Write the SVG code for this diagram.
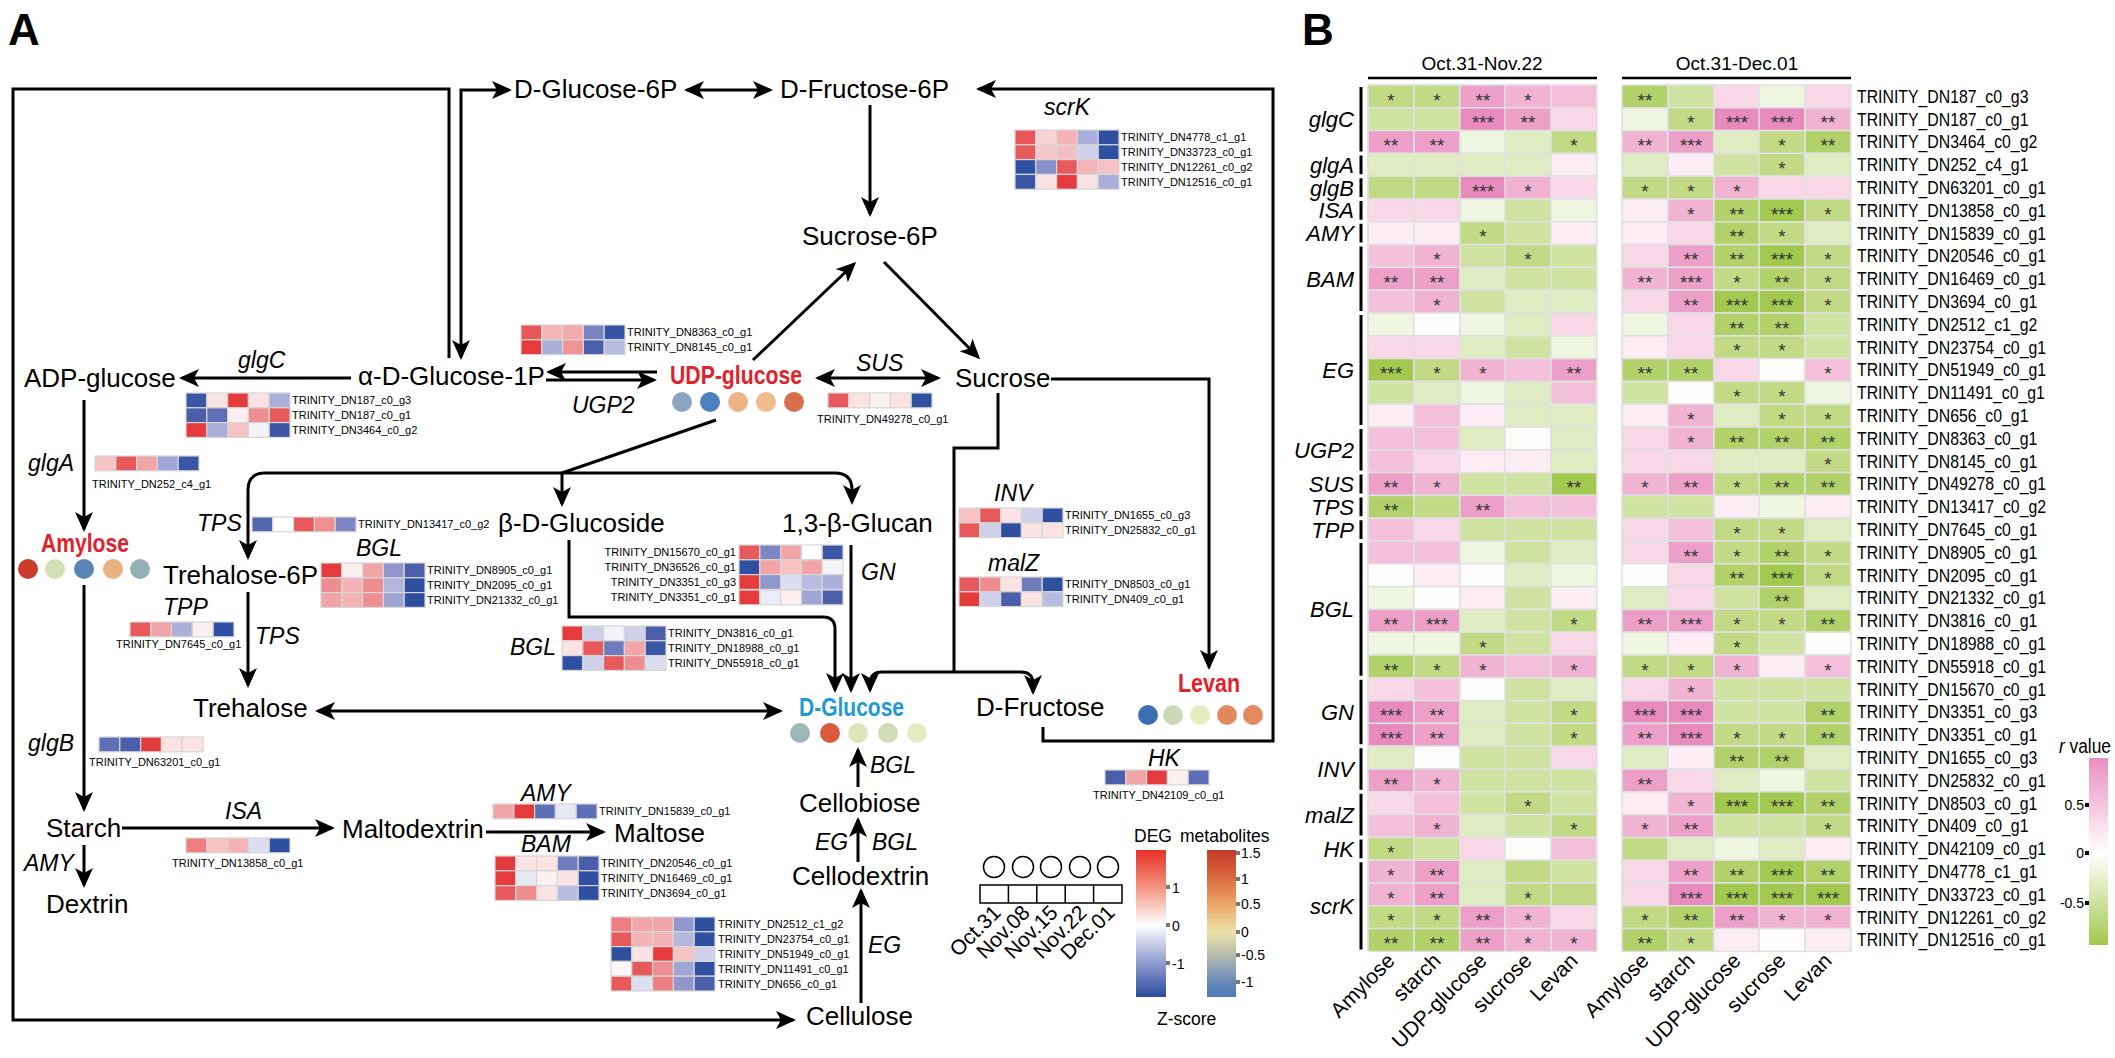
<svg xmlns="http://www.w3.org/2000/svg" width="2115" height="1058" viewBox="0 0 2115 1058">
<defs>
<marker id="ah" markerUnits="userSpaceOnUse" markerWidth="24" markerHeight="20" viewBox="0 0 24 20" refX="17" refY="9" orient="auto-start-reverse"><path d="M0,0 L20,9 L0,18 L5,9 Z" fill="#000"/></marker>
<linearGradient id="gDEG" x1="0" y1="0" x2="0" y2="1"><stop offset="0" stop-color="#e62f26"/><stop offset="0.25" stop-color="#f3927e"/><stop offset="0.51" stop-color="#ffffff"/><stop offset="0.75" stop-color="#97a2d2"/><stop offset="1" stop-color="#2a4b9e"/></linearGradient>
<linearGradient id="gMET" x1="0" y1="0" x2="0" y2="1"><stop offset="0" stop-color="#c23a28"/><stop offset="0.2" stop-color="#dc6d3f"/><stop offset="0.37" stop-color="#eba868"/><stop offset="0.56" stop-color="#ebe2a8"/><stop offset="0.71" stop-color="#b9bcad"/><stop offset="0.9" stop-color="#6689bb"/><stop offset="1" stop-color="#4d7bb9"/></linearGradient>
<linearGradient id="gR" x1="0" y1="0" x2="0" y2="1"><stop offset="0" stop-color="#e98fc0"/><stop offset="0.51" stop-color="#ffffff"/><stop offset="1" stop-color="#a3c84c"/></linearGradient>
</defs>
<style>
text{font-family:'Liberation Sans',Arial,sans-serif;fill:#000}
.m{font-size:26px}
.e{font-size:23px;font-style:italic}
.gl{font-size:11px}
.bl{font-weight:bold;font-size:26px}
.red{fill:#e2212b}
.blu{fill:#1f9ad3}
.ln{fill:none;stroke:#000;stroke-width:3}
.a2{marker-end:url(#ah)}
.a3{marker-start:url(#ah);marker-end:url(#ah)}
.ha rect{width:20.8px;height:14.8px;stroke:#d6d6d6;stroke-width:1.2}
.hb rect{width:45.8px;height:22.8px;stroke:#e0e0e0;stroke-width:1.5}
.s{font-size:19px;text-anchor:middle;fill:#333}
.gn{font-size:17.5px}
.gi{font-size:22px;font-style:italic;text-anchor:end}
.xl{font-size:21px;text-anchor:end}
.tk{font-size:14px}
.lg{font-size:17.5px}
.p1{fill:#fcedf4}.p2{fill:#f8d8e7}.p3{fill:#f3c2da}.p4{fill:#f0b3d1}.p5{fill:#eca0c7}.p6{fill:#e68bbb}
.w{fill:#fdfdfb}
.g1{fill:#eef5e0}.g2{fill:#dfecc2}.g3{fill:#d0e3a3}.g4{fill:#c2da86}.g5{fill:#b2d16a}.g6{fill:#a2c84f}
</style>
<rect width="2115" height="1058" fill="#fff"/>

<text x="8" y="45" style="font-size:44px;font-weight:bold">A</text>
<text x="1302" y="45" style="font-size:44px;font-weight:bold">B</text>

<!-- connectors -->
<g id="connectors">
<path class="ln a2" d="M449,358 V89 H13 V1020 H793"/>
<path class="ln a3" d="M461,357 V90 H509"/>
<path class="ln a3" d="M687,90 H770"/>
<path class="ln a2" d="M1043,727 V741 H1273 V89 H979"/>
<path class="ln a2" d="M870,105 V214"/>
<path class="ln a2" d="M753,360 L854,264"/>
<path class="ln a2" d="M884,262 L978,357"/>
<path class="ln a3" d="M818,378 H938"/>
<path class="ln a2" d="M351,378 H182"/>
<path class="ln a2" d="M657,372 H549"/>
<path class="ln a2" d="M546,380 H654"/>
<path class="ln a2" d="M84,400 V529"/>
<path class="ln a2" d="M84,585 V809"/>
<path class="ln a2" d="M84,845 V885"/>
<path class="ln a2" d="M122,828 H332"/>
<path class="ln a2" d="M486,832 H603"/>
<path class="ln a2" d="M248,592 V685"/>
<path class="ln a3" d="M318,711 H780"/>
<path class="ln a3" d="M248,557 V490 Q248,473 265,473 H835 Q852,473 852,490 V502"/>
<path class="ln" d="M716,420 L562,473"/>
<path class="ln a2" d="M562,473 V504"/>
<path class="ln a2" d="M569,540 V617 H823 Q835,617 835,629 V690"/>
<path class="ln a2" d="M851,545 V690"/>
<path class="ln" d="M998,393 V448 H954 V672"/>
<path class="ln a3" d="M870,690 V684 Q870,672 882,672 H1021 Q1033,672 1033,684 V692"/>
<path class="ln a2" d="M1051,379 H1209 V667"/>
<path class="ln a2" d="M861,1003 V891"/>
<path class="ln a2" d="M858,862 V820"/>
<path class="ln a2" d="M858,787 V750"/>
</g>

<!-- nodes -->
<g id="n-glucose6p"><text class="m" x="514" y="98">D-Glucose-6P</text></g>
<g id="n-fructose6p"><text class="m" x="780" y="98">D-Fructose-6P</text></g>
<g id="n-sucrose6p"><text class="m" x="802" y="245">Sucrose-6P</text></g>
<g id="n-glucose1p"><text class="m" x="358" y="385">α-D-Glucose-1P</text></g>
<g id="n-adpglucose"><text class="m" x="24" y="387">ADP-glucose</text></g>
<g id="n-udpglucose"><text class="bl red" x="670" y="384" textLength="132" lengthAdjust="spacingAndGlyphs">UDP-glucose</text>
<circle cx="682" cy="402" r="10" fill="#8aa6bf"/><circle cx="710" cy="402" r="10" fill="#4e80bd"/><circle cx="738" cy="402" r="10" fill="#ebb383"/><circle cx="766" cy="402" r="10" fill="#efbd8c"/><circle cx="794" cy="402" r="10" fill="#da6e4c"/></g>
<g id="n-sucrose"><text class="m" x="955" y="387">Sucrose</text></g>
<g id="n-amylose"><text class="bl red" x="41" y="552" textLength="88" lengthAdjust="spacingAndGlyphs">Amylose</text>
<circle cx="28" cy="569" r="10" fill="#cd3b2b"/><circle cx="55" cy="569" r="10" fill="#d3e0b3"/><circle cx="84" cy="569" r="10" fill="#5a86b7"/><circle cx="113" cy="569" r="10" fill="#e9b281"/><circle cx="140" cy="569" r="10" fill="#93b1b6"/></g>
<g id="n-glucoside"><text class="m" x="498" y="532">β-D-Glucoside</text></g>
<g id="n-glucan"><text class="m" x="782" y="532">1,3-β-Glucan</text></g>
<g id="n-trehalose6p"><text class="m" x="163" y="584">Trehalose-6P</text></g>
<g id="n-trehalose"><text class="m" x="193" y="717">Trehalose</text></g>
<g id="n-dglucose"><text class="bl blu" x="799" y="716" textLength="105" lengthAdjust="spacingAndGlyphs">D-Glucose</text>
<circle cx="800" cy="733" r="10" fill="#9cb7b5"/><circle cx="830" cy="733" r="10" fill="#d95a3c"/><circle cx="858" cy="733" r="10" fill="#dde6bb"/><circle cx="888" cy="733" r="10" fill="#cfdcb7"/><circle cx="917" cy="733" r="10" fill="#e4ecbf"/></g>
<g id="n-dfructose"><text class="m" x="976" y="716">D-Fructose</text></g>
<g id="n-levan"><text class="bl red" x="1178" y="692" textLength="62" lengthAdjust="spacingAndGlyphs">Levan</text>
<circle cx="1148" cy="715" r="10" fill="#3c6fb5"/><circle cx="1173" cy="715" r="10" fill="#ccd9b6"/><circle cx="1200" cy="715" r="10" fill="#e6edbc"/><circle cx="1227" cy="715" r="10" fill="#e28a5d"/><circle cx="1253" cy="715" r="10" fill="#e38b5f"/></g>
<g id="n-starch"><text class="m" x="46" y="837">Starch</text></g>
<g id="n-maltodextrin"><text class="m" x="342" y="838">Maltodextrin</text></g>
<g id="n-maltose"><text class="m" x="614" y="842">Maltose</text></g>
<g id="n-dextrin"><text class="m" x="46" y="913">Dextrin</text></g>
<g id="n-cellobiose"><text class="m" x="799" y="812">Cellobiose</text></g>
<g id="n-cellodextrin"><text class="m" x="792" y="885">Cellodextrin</text></g>
<g id="n-cellulose"><text class="m" x="806" y="1025">Cellulose</text></g>

<!-- enzyme labels -->
<g id="enzymes">
<text class="e" x="238" y="368">glgC</text>
<text class="e" x="572" y="413">UGP2</text>
<text class="e" x="856" y="371">SUS</text>
<text class="e" x="1044" y="115">scrK</text>
<text class="e" x="28" y="471">glgA</text>
<text class="e" x="197" y="531">TPS</text>
<text class="e" x="356" y="556">BGL</text>
<text class="e" x="163" y="615">TPP</text>
<text class="e" x="255" y="644">TPS</text>
<text class="e" x="510" y="655">BGL</text>
<text class="e" x="861" y="580">GN</text>
<text class="e" x="994" y="501">INV</text>
<text class="e" x="988" y="571">malZ</text>
<text class="e" x="1148" y="766">HK</text>
<text class="e" x="28" y="751">glgB</text>
<text class="e" x="225" y="819">ISA</text>
<text class="e" x="521" y="801">AMY</text>
<text class="e" x="521" y="852">BAM</text>
<text class="e" x="24" y="871">AMY</text>
<text class="e" x="870" y="773">BGL</text>
<text class="e" x="815" y="850">EG</text>
<text class="e" x="872" y="850">BGL</text>
<text class="e" x="868" y="953">EG</text>
</g>

<!-- panel A heatmaps -->
<g class="ha">
<g id="hm-ugp2" transform="translate(521,325)">
<rect x="0" y="0" fill="#e8565a"/><rect x="20.8" y="0" fill="#f3b7b9"/><rect x="41.6" y="0" fill="#f2aaac"/><rect x="62.4" y="0" fill="#7a82c0"/><rect x="83.2" y="0" fill="#3653a5"/>
<rect x="0" y="14.8" fill="#e53b3d"/><rect x="20.8" y="14.8" fill="#aab0da"/><rect x="41.6" y="14.8" fill="#ee9496"/><rect x="62.4" y="14.8" fill="#4b5eaa"/><rect x="83.2" y="14.8" fill="#b8bce0"/>
<text class="gl" x="106" y="11.4">TRINITY_DN8363_c0_g1</text><text class="gl" x="106" y="26.2">TRINITY_DN8145_c0_g1</text>
</g>
<g id="hm-scrk" transform="translate(1015,130)">
<rect x="0" y="0" fill="#e8565a"/><rect x="20.8" y="0" fill="#f7d3d5"/><rect x="41.6" y="0" fill="#f4b3b6"/><rect x="62.4" y="0" fill="#aaaedb"/><rect x="83.2" y="0" fill="#2f4fa0"/>
<rect x="0" y="14.8" fill="#e8595c"/><rect x="20.8" y="14.8" fill="#f6c8ca"/><rect x="41.6" y="14.8" fill="#f4bfc1"/><rect x="62.4" y="14.8" fill="#cfd1ea"/><rect x="83.2" y="14.8" fill="#2f4fa0"/>
<rect x="0" y="29.6" fill="#2f4fa0"/><rect x="20.8" y="29.6" fill="#8790c8"/><rect x="41.6" y="29.6" fill="#e8595c"/><rect x="62.4" y="29.6" fill="#f4b3b6"/><rect x="83.2" y="29.6" fill="#f6c2c4"/>
<rect x="0" y="44.4" fill="#3a56a5"/><rect x="20.8" y="44.4" fill="#fbe3e4"/><rect x="41.6" y="44.4" fill="#e53b3d"/><rect x="62.4" y="44.4" fill="#fbe3e4"/><rect x="83.2" y="44.4" fill="#aaaedb"/>
<text class="gl" x="106" y="11.4">TRINITY_DN4778_c1_g1</text><text class="gl" x="106" y="26.2">TRINITY_DN33723_c0_g1</text><text class="gl" x="106" y="41">TRINITY_DN12261_c0_g2</text><text class="gl" x="106" y="55.8">TRINITY_DN12516_c0_g1</text>
</g>
<g id="hm-glgc" transform="translate(186,393)">
<rect x="0" y="0" fill="#3a56a5"/><rect x="20.8" y="0" fill="#fbe3e4"/><rect x="41.6" y="0" fill="#e53b3d"/><rect x="62.4" y="0" fill="#fbe3e4"/><rect x="83.2" y="0" fill="#aaaedb"/>
<rect x="0" y="14.8" fill="#4b5eaa"/><rect x="20.8" y="14.8" fill="#5f6fb5"/><rect x="41.6" y="14.8" fill="#fbeff0"/><rect x="62.4" y="14.8" fill="#ee8e90"/><rect x="83.2" y="14.8" fill="#e8595c"/>
<rect x="0" y="29.6" fill="#e53b3d"/><rect x="20.8" y="29.6" fill="#aaaedb"/><rect x="41.6" y="29.6" fill="#f6c2c4"/><rect x="62.4" y="29.6" fill="#f3f3f8"/><rect x="83.2" y="29.6" fill="#3a56a5"/>
<text class="gl" x="106" y="11.4">TRINITY_DN187_c0_g3</text><text class="gl" x="106" y="26.2">TRINITY_DN187_c0_g1</text><text class="gl" x="106" y="41">TRINITY_DN3464_c0_g2</text>
</g>
<g id="hm-sus" transform="translate(828,393)">
<rect x="0" y="0" fill="#e8595c"/><rect x="20.8" y="0" fill="#fbe3e4"/><rect x="41.6" y="0" fill="#fdf0f0"/><rect x="62.4" y="0" fill="#fbe3e4"/><rect x="83.2" y="0" fill="#2f4fa0"/>
<text class="gl" x="-11" y="30">TRINITY_DN49278_c0_g1</text>
</g>
<g id="hm-glga" transform="translate(95,456)">
<rect x="0" y="0" fill="#f6c2c4"/><rect x="20.8" y="0" fill="#e8595c"/><rect x="41.6" y="0" fill="#f2a5a8"/><rect x="62.4" y="0" fill="#9fa6d6"/><rect x="83.2" y="0" fill="#3a56a5"/>
<text class="gl" x="-3" y="32">TRINITY_DN252_c4_g1</text>
</g>
<g id="hm-tps" transform="translate(252,517)">
<rect x="0" y="0" fill="#5566b0"/><rect x="20.8" y="0" fill="#ffffff"/><rect x="41.6" y="0" fill="#e8595c"/><rect x="62.4" y="0" fill="#ef8f92"/><rect x="83.2" y="0" fill="#7e87c4"/>
<text class="gl" x="106" y="11.4">TRINITY_DN13417_c0_g2</text>
</g>
<g id="hm-bgl1" transform="translate(321,563)">
<rect x="0" y="0" fill="#e53b3d"/><rect x="20.8" y="0" fill="#fbeff0"/><rect x="41.6" y="0" fill="#f2a5a8"/><rect x="62.4" y="0" fill="#8f97cc"/><rect x="83.2" y="0" fill="#4b5eaa"/>
<rect x="0" y="14.8" fill="#ee8e90"/><rect x="20.8" y="14.8" fill="#f4b3b6"/><rect x="41.6" y="14.8" fill="#ee8e90"/><rect x="62.4" y="14.8" fill="#b3b7de"/><rect x="83.2" y="14.8" fill="#2f4fa0"/>
<rect x="0" y="29.6" fill="#f2a5a8"/><rect x="20.8" y="29.6" fill="#f4b3b6"/><rect x="41.6" y="29.6" fill="#ee8e90"/><rect x="62.4" y="29.6" fill="#9fa6d6"/><rect x="83.2" y="29.6" fill="#2f4fa0"/>
<text class="gl" x="106" y="11.4">TRINITY_DN8905_c0_g1</text><text class="gl" x="106" y="26.2">TRINITY_DN2095_c0_g1</text><text class="gl" x="106" y="41">TRINITY_DN21332_c0_g1</text>
</g>
<g id="hm-tpp" transform="translate(130,622)">
<rect x="0" y="0" fill="#e8595c"/><rect x="20.8" y="0" fill="#f2a5a8"/><rect x="41.6" y="0" fill="#aab0da"/><rect x="62.4" y="0" fill="#fbeff0"/><rect x="83.2" y="0" fill="#2f4fa0"/>
<text class="gl" x="-14" y="26">TRINITY_DN7645_c0_g1</text>
</g>
<g id="hm-gn" transform="translate(739,545)">
<rect x="0" y="0" fill="#e8595c"/><rect x="20.8" y="0" fill="#7e87c4"/><rect x="41.6" y="0" fill="#f2a5a8"/><rect x="62.4" y="0" fill="#ffffff"/><rect x="83.2" y="0" fill="#3a56a5"/>
<rect x="0" y="14.8" fill="#2f4fa0"/><rect x="20.8" y="14.8" fill="#f2a5a8"/><rect x="41.6" y="14.8" fill="#f6c2c4"/><rect x="62.4" y="14.8" fill="#f2a5a8"/><rect x="83.2" y="14.8" fill="#f3f3f8"/>
<rect x="0" y="29.6" fill="#e53b3d"/><rect x="20.8" y="29.6" fill="#8f97cc"/><rect x="41.6" y="29.6" fill="#dcdff0"/><rect x="62.4" y="29.6" fill="#b8bce0"/><rect x="83.2" y="29.6" fill="#aab0da"/>
<rect x="0" y="45" fill="#e53b3d"/><rect x="20.8" y="45" fill="#eaecf6"/><rect x="41.6" y="45" fill="#fdf0f0"/><rect x="62.4" y="45" fill="#9fa6d6"/><rect x="83.2" y="45" fill="#4b5eaa"/>
<g style="text-anchor:end"><text class="gl" x="-3" y="11.4">TRINITY_DN15670_c0_g1</text><text class="gl" x="-3" y="26.2">TRINITY_DN36526_c0_g1</text><text class="gl" x="-3" y="41">TRINITY_DN3351_c0_g3</text><text class="gl" x="-3" y="56.4">TRINITY_DN3351_c0_g1</text></g>
</g>
<g id="hm-bgl2" transform="translate(562,626)">
<rect x="0" y="0" fill="#e53b3d"/><rect x="20.8" y="0" fill="#cfd1ea"/><rect x="41.6" y="0" fill="#f3f3f8"/><rect x="62.4" y="0" fill="#cfd1ea"/><rect x="83.2" y="0" fill="#4b5eaa"/>
<rect x="0" y="14.8" fill="#fbe3e4"/><rect x="20.8" y="14.8" fill="#e8595c"/><rect x="41.6" y="14.8" fill="#6f7cbd"/><rect x="62.4" y="14.8" fill="#f2a5a8"/><rect x="83.2" y="14.8" fill="#3a56a5"/>
<rect x="0" y="29.6" fill="#2f4fa0"/><rect x="20.8" y="29.6" fill="#cfd1ea"/><rect x="41.6" y="29.6" fill="#e8595c"/><rect x="62.4" y="29.6" fill="#ee8e90"/><rect x="83.2" y="29.6" fill="#dcdff0"/>
<text class="gl" x="106" y="11.4">TRINITY_DN3816_c0_g1</text><text class="gl" x="106" y="26.2">TRINITY_DN18988_c0_g1</text><text class="gl" x="106" y="41">TRINITY_DN55918_c0_g1</text>
</g>
<g id="hm-inv" transform="translate(959,508)">
<rect x="0" y="0" fill="#f6c2c4"/><rect x="20.8" y="0" fill="#e8595c"/><rect x="41.6" y="0" fill="#fbe3e4"/><rect x="62.4" y="0" fill="#cfd1ea"/><rect x="83.2" y="0" fill="#2f4fa0"/>
<rect x="0" y="14.8" fill="#e8595c"/><rect x="20.8" y="14.8" fill="#cfd1ea"/><rect x="41.6" y="14.8" fill="#2f4fa0"/><rect x="62.4" y="14.8" fill="#fbe3e4"/><rect x="83.2" y="14.8" fill="#fbe3e4"/>
<text class="gl" x="106" y="11.4">TRINITY_DN1655_c0_g3</text><text class="gl" x="106" y="26.2">TRINITY_DN25832_c0_g1</text>
</g>
<g id="hm-malz" transform="translate(959,577)">
<rect x="0" y="0" fill="#e8595c"/><rect x="20.8" y="0" fill="#ee8e90"/><rect x="41.6" y="0" fill="#fbe3e4"/><rect x="62.4" y="0" fill="#6f7cbd"/><rect x="83.2" y="0" fill="#2f4fa0"/>
<rect x="0" y="14.8" fill="#e53b3d"/><rect x="20.8" y="14.8" fill="#cfd1ea"/><rect x="41.6" y="14.8" fill="#4b5eaa"/><rect x="62.4" y="14.8" fill="#fbe3e4"/><rect x="83.2" y="14.8" fill="#b8bce0"/>
<text class="gl" x="106" y="11.4">TRINITY_DN8503_c0_g1</text><text class="gl" x="106" y="26.2">TRINITY_DN409_c0_g1</text>
</g>
<g id="hm-hk" transform="translate(1105,770)">
<rect x="0" y="0" fill="#4b5eaa"/><rect x="20.8" y="0" fill="#f2a5a8"/><rect x="41.6" y="0" fill="#e53b3d"/><rect x="62.4" y="0" fill="#fdf0f0"/><rect x="83.2" y="0" fill="#5f6fb5"/>
<text class="gl" x="-12" y="29">TRINITY_DN42109_c0_g1</text>
</g>
<g id="hm-glgb" transform="translate(99,737)">
<rect x="0" y="0" fill="#5f6fb5"/><rect x="20.8" y="0" fill="#4b5eaa"/><rect x="41.6" y="0" fill="#e53b3d"/><rect x="62.4" y="0" fill="#fbe3e4"/><rect x="83.2" y="0" fill="#fbe3e4"/>
<text class="gl" x="-10" y="29">TRINITY_DN63201_c0_g1</text>
</g>
<g id="hm-isa" transform="translate(186,838)">
<rect x="0" y="0" fill="#ee7e80"/><rect x="20.8" y="0" fill="#f6c2c4"/><rect x="41.6" y="0" fill="#f4b3b6"/><rect x="62.4" y="0" fill="#dcdff0"/><rect x="83.2" y="0" fill="#2f4fa0"/>
<text class="gl" x="-14" y="29">TRINITY_DN13858_c0_g1</text>
</g>
<g id="hm-amy" transform="translate(493,804)">
<rect x="0" y="0" fill="#f2a5a8"/><rect x="20.8" y="0" fill="#e53b3d"/><rect x="41.6" y="0" fill="#5f6fb5"/><rect x="62.4" y="0" fill="#e6e8f4"/><rect x="83.2" y="0" fill="#5f6fb5"/>
<text class="gl" x="106" y="11.4">TRINITY_DN15839_c0_g1</text>
</g>
<g id="hm-bam" transform="translate(495,856)">
<rect x="0" y="0" fill="#e53b3d"/><rect x="20.8" y="0" fill="#fbe3e4"/><rect x="41.6" y="0" fill="#fbe3e4"/><rect x="62.4" y="0" fill="#6f7cbd"/><rect x="83.2" y="0" fill="#4b5eaa"/>
<rect x="0" y="14.8" fill="#e53b3d"/><rect x="20.8" y="14.8" fill="#e6e8f4"/><rect x="41.6" y="14.8" fill="#fdf0f0"/><rect x="62.4" y="14.8" fill="#fbe3e4"/><rect x="83.2" y="14.8" fill="#2f4fa0"/>
<rect x="0" y="29.6" fill="#e8595c"/><rect x="20.8" y="29.6" fill="#ee8e90"/><rect x="41.6" y="29.6" fill="#fbe3e4"/><rect x="62.4" y="29.6" fill="#b8bce0"/><rect x="83.2" y="29.6" fill="#2f4fa0"/>
<text class="gl" x="106" y="11.4">TRINITY_DN20546_c0_g1</text><text class="gl" x="106" y="26.2">TRINITY_DN16469_c0_g1</text><text class="gl" x="106" y="41">TRINITY_DN3694_c0_g1</text>
</g>
<g id="hm-eg" transform="translate(611,917)">
<rect x="0" y="0" fill="#ee7e80"/><rect x="20.8" y="0" fill="#f2a5a8"/><rect x="41.6" y="0" fill="#f2a5a8"/><rect x="62.4" y="0" fill="#8f97cc"/><rect x="83.2" y="0" fill="#2f4fa0"/>
<rect x="0" y="14.8" fill="#e8595c"/><rect x="20.8" y="14.8" fill="#f4b3b6"/><rect x="41.6" y="14.8" fill="#f4b3b6"/><rect x="62.4" y="14.8" fill="#b3b7de"/><rect x="83.2" y="14.8" fill="#2f4fa0"/>
<rect x="0" y="29.6" fill="#2f4fa0"/><rect x="20.8" y="29.6" fill="#fbe3e4"/><rect x="41.6" y="29.6" fill="#e53b3d"/><rect x="62.4" y="29.6" fill="#f6c2c4"/><rect x="83.2" y="29.6" fill="#cfd1ea"/>
<rect x="0" y="44.4" fill="#fdf6f6"/><rect x="20.8" y="44.4" fill="#e8595c"/><rect x="41.6" y="44.4" fill="#ee8e90"/><rect x="62.4" y="44.4" fill="#9fa6d6"/><rect x="83.2" y="44.4" fill="#2f4fa0"/>
<rect x="0" y="59.2" fill="#e8595c"/><rect x="20.8" y="59.2" fill="#dcdff0"/><rect x="41.6" y="59.2" fill="#ee7e80"/><rect x="62.4" y="59.2" fill="#8f97cc"/><rect x="83.2" y="59.2" fill="#4b5eaa"/>
<text class="gl" x="107" y="11.4">TRINITY_DN2512_c1_g2</text><text class="gl" x="107" y="26.2">TRINITY_DN23754_c0_g1</text><text class="gl" x="107" y="41">TRINITY_DN51949_c0_g1</text><text class="gl" x="107" y="55.8">TRINITY_DN11491_c0_g1</text><text class="gl" x="107" y="70.6">TRINITY_DN656_c0_g1</text>
</g>
</g>

<!-- legend A -->
<g id="legend-a">
<g fill="none" stroke="#000" stroke-width="1.5">
<circle cx="994" cy="867" r="10.5"/><circle cx="1023" cy="867" r="10.5"/><circle cx="1051" cy="867" r="10.5"/><circle cx="1080" cy="867" r="10.5"/><circle cx="1108" cy="867" r="10.5"/>
<rect x="980" y="885" width="142" height="18"/>
<path d="M1008.4,885 V903 M1036.8,885 V903 M1065.2,885 V903 M1093.6,885 V903"/>
</g>
<g style="font-size:21px;text-anchor:end">
<text x="1002" y="914" transform="rotate(-45 1002 914)">Oct.31</text>
<text x="1031" y="914" transform="rotate(-45 1031 914)">Nov.08</text>
<text x="1059" y="914" transform="rotate(-45 1059 914)">Nov.15</text>
<text x="1088" y="914" transform="rotate(-45 1088 914)">Nov.22</text>
<text x="1116" y="914" transform="rotate(-45 1116 914)">Dec.01</text>
</g>
<text class="lg" x="1134" y="842">DEG</text>
<text class="lg" x="1180" y="842">metabolites</text>
<rect x="1136" y="850" width="30" height="147" fill="url(#gDEG)"/>
<rect x="1207" y="850" width="29" height="147" fill="url(#gMET)"/>
<g fill="#777"><rect x="1166" y="885" width="4" height="4"/><rect x="1166" y="923" width="4" height="4"/><rect x="1166" y="961" width="4" height="4"/>
<rect x="1236" y="851" width="4" height="4"/><rect x="1236" y="877" width="4" height="4"/><rect x="1236" y="902" width="4" height="4"/><rect x="1236" y="930" width="4" height="4"/><rect x="1236" y="953" width="4" height="4"/><rect x="1236" y="980" width="4" height="4"/></g>
<text class="tk" x="1172" y="893">1</text><text class="tk" x="1172" y="931">0</text><text class="tk" x="1172" y="969">-1</text>
<text class="tk" x="1241" y="858">1.5</text><text class="tk" x="1241" y="884">1</text><text class="tk" x="1241" y="909">0.5</text><text class="tk" x="1241" y="937">0</text><text class="tk" x="1241" y="960">-0.5</text><text class="tk" x="1241" y="987">-1</text>
<text class="lg" x="1157" y="1025">Z-score</text>
</g>

<!-- panel B -->
<g id="panel-b">
<text x="1482" y="70" style="font-size:19px;text-anchor:middle">Oct.31-Nov.22</text>
<text x="1737" y="70" style="font-size:19px;text-anchor:middle">Oct.31-Dec.01</text>
<path d="M1368,78 H1597 M1622,78 H1851" stroke="#000" stroke-width="2.5"/>
<g class="hb">
<g transform="translate(0,85)"><rect x="1368" class="g4"/><rect x="1414" class="g4"/><rect x="1460" class="p5"/><rect x="1505" class="p4"/><rect x="1551" class="p3"/><rect x="1622" class="g5"/><rect x="1668" class="g3"/><rect x="1714" class="p2"/><rect x="1759" class="g1"/><rect x="1805" class="p2"/>
<text class="s" x="1391" y="21.5">*</text><text class="s" x="1437" y="21.5">*</text><text class="s" x="1483" y="21.5">**</text><text class="s" x="1528" y="21.5">*</text><text class="s" x="1645" y="21.5">**</text></g>
<g transform="translate(0,107.8)"><rect x="1368" class="g3"/><rect x="1414" class="g3"/><rect x="1460" class="p6"/><rect x="1505" class="p5"/><rect x="1551" class="p2"/><rect x="1622" class="g1"/><rect x="1668" class="g4"/><rect x="1714" class="p6"/><rect x="1759" class="p6"/><rect x="1805" class="p4"/>
<text class="s" x="1483" y="21.5">***</text><text class="s" x="1528" y="21.5">**</text><text class="s" x="1691" y="21.5">*</text><text class="s" x="1737" y="21.5">***</text><text class="s" x="1782" y="21.5">***</text><text class="s" x="1828" y="21.5">**</text></g>
<g transform="translate(0,130.6)"><rect x="1368" class="p5"/><rect x="1414" class="p5"/><rect x="1460" class="g1"/><rect x="1505" class="g2"/><rect x="1551" class="g4"/><rect x="1622" class="p4"/><rect x="1668" class="p5"/><rect x="1714" class="g2"/><rect x="1759" class="g4"/><rect x="1805" class="g5"/>
<text class="s" x="1391" y="21.5">**</text><text class="s" x="1437" y="21.5">**</text><text class="s" x="1574" y="21.5">*</text><text class="s" x="1645" y="21.5">**</text><text class="s" x="1691" y="21.5">***</text><text class="s" x="1782" y="21.5">*</text><text class="s" x="1828" y="21.5">**</text></g>
<g transform="translate(0,153.4)"><rect x="1368" class="g2"/><rect x="1414" class="g2"/><rect x="1460" class="g2"/><rect x="1505" class="g2"/><rect x="1551" class="p1"/><rect x="1622" class="g2"/><rect x="1668" class="p1"/><rect x="1714" class="g3"/><rect x="1759" class="g4"/><rect x="1805" class="g2"/>
<text class="s" x="1782" y="21.5">*</text></g>
<g transform="translate(0,176.2)"><rect x="1368" class="g4"/><rect x="1414" class="g4"/><rect x="1460" class="p6"/><rect x="1505" class="p4"/><rect x="1551" class="p2"/><rect x="1622" class="g4"/><rect x="1668" class="g4"/><rect x="1714" class="p4"/><rect x="1759" class="p2"/><rect x="1805" class="p2"/>
<text class="s" x="1483" y="21.5">***</text><text class="s" x="1528" y="21.5">*</text><text class="s" x="1645" y="21.5">*</text><text class="s" x="1691" y="21.5">*</text><text class="s" x="1737" y="21.5">*</text></g>
<g transform="translate(0,199)"><rect x="1368" class="p2"/><rect x="1414" class="p2"/><rect x="1460" class="g1"/><rect x="1505" class="g3"/><rect x="1551" class="g1"/><rect x="1622" class="p1"/><rect x="1668" class="p4"/><rect x="1714" class="g5"/><rect x="1759" class="g6"/><rect x="1805" class="g4"/>
<text class="s" x="1691" y="21.5">*</text><text class="s" x="1737" y="21.5">**</text><text class="s" x="1782" y="21.5">***</text><text class="s" x="1828" y="21.5">*</text></g>
<g transform="translate(0,221.8)"><rect x="1368" class="p1"/><rect x="1414" class="p1"/><rect x="1460" class="g4"/><rect x="1505" class="g3"/><rect x="1551" class="p1"/><rect x="1622" class="p1"/><rect x="1668" class="p2"/><rect x="1714" class="g5"/><rect x="1759" class="g4"/><rect x="1805" class="g2"/>
<text class="s" x="1483" y="21.5">*</text><text class="s" x="1737" y="21.5">**</text><text class="s" x="1782" y="21.5">*</text></g>
<g transform="translate(0,244.6)"><rect x="1368" class="p3"/><rect x="1414" class="p4"/><rect x="1460" class="g3"/><rect x="1505" class="g4"/><rect x="1551" class="g3"/><rect x="1622" class="p2"/><rect x="1668" class="p5"/><rect x="1714" class="g5"/><rect x="1759" class="g6"/><rect x="1805" class="g4"/>
<text class="s" x="1437" y="21.5">*</text><text class="s" x="1528" y="21.5">*</text><text class="s" x="1691" y="21.5">**</text><text class="s" x="1737" y="21.5">**</text><text class="s" x="1782" y="21.5">***</text><text class="s" x="1828" y="21.5">*</text></g>
<g transform="translate(0,267.4)"><rect x="1368" class="p5"/><rect x="1414" class="p5"/><rect x="1460" class="g2"/><rect x="1505" class="g3"/><rect x="1551" class="g3"/><rect x="1622" class="p4"/><rect x="1668" class="p5"/><rect x="1714" class="g4"/><rect x="1759" class="g5"/><rect x="1805" class="g4"/>
<text class="s" x="1391" y="21.5">**</text><text class="s" x="1437" y="21.5">**</text><text class="s" x="1645" y="21.5">**</text><text class="s" x="1691" y="21.5">***</text><text class="s" x="1737" y="21.5">*</text><text class="s" x="1782" y="21.5">**</text><text class="s" x="1828" y="21.5">*</text></g>
<g transform="translate(0,290.2)"><rect x="1368" class="p3"/><rect x="1414" class="p4"/><rect x="1460" class="g3"/><rect x="1505" class="g2"/><rect x="1551" class="g2"/><rect x="1622" class="p2"/><rect x="1668" class="p5"/><rect x="1714" class="g6"/><rect x="1759" class="g6"/><rect x="1805" class="g4"/>
<text class="s" x="1437" y="21.5">*</text><text class="s" x="1691" y="21.5">**</text><text class="s" x="1737" y="21.5">***</text><text class="s" x="1782" y="21.5">***</text><text class="s" x="1828" y="21.5">*</text></g>
<g transform="translate(0,313)"><rect x="1368" class="g1"/><rect x="1414" class="w"/><rect x="1460" class="g1"/><rect x="1505" class="g2"/><rect x="1551" class="p2"/><rect x="1622" class="g1"/><rect x="1668" class="p2"/><rect x="1714" class="g5"/><rect x="1759" class="g5"/><rect x="1805" class="g3"/>
<text class="s" x="1737" y="21.5">**</text><text class="s" x="1782" y="21.5">**</text></g>
<g transform="translate(0,335.8)"><rect x="1368" class="p2"/><rect x="1414" class="p2"/><rect x="1460" class="g2"/><rect x="1505" class="g3"/><rect x="1551" class="g1"/><rect x="1622" class="p1"/><rect x="1668" class="p2"/><rect x="1714" class="g4"/><rect x="1759" class="g4"/><rect x="1805" class="g3"/>
<text class="s" x="1737" y="21.5">*</text><text class="s" x="1782" y="21.5">*</text></g>
<g transform="translate(0,358.6)"><rect x="1368" class="g6"/><rect x="1414" class="g4"/><rect x="1460" class="p4"/><rect x="1505" class="p3"/><rect x="1551" class="p5"/><rect x="1622" class="g5"/><rect x="1668" class="g5"/><rect x="1714" class="p2"/><rect x="1759" class="w"/><rect x="1805" class="p3"/>
<text class="s" x="1391" y="21.5">***</text><text class="s" x="1437" y="21.5">*</text><text class="s" x="1483" y="21.5">*</text><text class="s" x="1574" y="21.5">**</text><text class="s" x="1645" y="21.5">**</text><text class="s" x="1691" y="21.5">**</text><text class="s" x="1828" y="21.5">*</text></g>
<g transform="translate(0,381.4)"><rect x="1368" class="g3"/><rect x="1414" class="g2"/><rect x="1460" class="g1"/><rect x="1505" class="g2"/><rect x="1551" class="p3"/><rect x="1622" class="g3"/><rect x="1668" class="w"/><rect x="1714" class="g4"/><rect x="1759" class="g4"/><rect x="1805" class="g1"/>
<text class="s" x="1737" y="21.5">*</text><text class="s" x="1782" y="21.5">*</text></g>
<g transform="translate(0,404.2)"><rect x="1368" class="p1"/><rect x="1414" class="p3"/><rect x="1460" class="p1"/><rect x="1505" class="g2"/><rect x="1551" class="g2"/><rect x="1622" class="p1"/><rect x="1668" class="p4"/><rect x="1714" class="g2"/><rect x="1759" class="g4"/><rect x="1805" class="g4"/>
<text class="s" x="1691" y="21.5">*</text><text class="s" x="1782" y="21.5">*</text><text class="s" x="1828" y="21.5">*</text></g>
<g transform="translate(0,427)"><rect x="1368" class="p3"/><rect x="1414" class="p3"/><rect x="1460" class="g2"/><rect x="1505" class="w"/><rect x="1551" class="g2"/><rect x="1622" class="p2"/><rect x="1668" class="p4"/><rect x="1714" class="g5"/><rect x="1759" class="g5"/><rect x="1805" class="g5"/>
<text class="s" x="1691" y="21.5">*</text><text class="s" x="1737" y="21.5">**</text><text class="s" x="1782" y="21.5">**</text><text class="s" x="1828" y="21.5">**</text></g>
<g transform="translate(0,449.8)"><rect x="1368" class="p3"/><rect x="1414" class="p2"/><rect x="1460" class="p1"/><rect x="1505" class="p1"/><rect x="1551" class="g2"/><rect x="1622" class="p2"/><rect x="1668" class="p2"/><rect x="1714" class="g2"/><rect x="1759" class="g2"/><rect x="1805" class="g4"/>
<text class="s" x="1828" y="21.5">*</text></g>
<g transform="translate(0,472.6)"><rect x="1368" class="p5"/><rect x="1414" class="p4"/><rect x="1460" class="g3"/><rect x="1505" class="g3"/><rect x="1551" class="g6"/><rect x="1622" class="p4"/><rect x="1668" class="p5"/><rect x="1714" class="g4"/><rect x="1759" class="g5"/><rect x="1805" class="g5"/>
<text class="s" x="1391" y="21.5">**</text><text class="s" x="1437" y="21.5">*</text><text class="s" x="1574" y="21.5">**</text><text class="s" x="1645" y="21.5">*</text><text class="s" x="1691" y="21.5">**</text><text class="s" x="1737" y="21.5">*</text><text class="s" x="1782" y="21.5">**</text><text class="s" x="1828" y="21.5">**</text></g>
<g transform="translate(0,495.4)"><rect x="1368" class="g5"/><rect x="1414" class="g4"/><rect x="1460" class="p5"/><rect x="1505" class="p3"/><rect x="1551" class="p3"/><rect x="1622" class="g3"/><rect x="1668" class="g3"/><rect x="1714" class="p1"/><rect x="1759" class="g1"/><rect x="1805" class="p1"/>
<text class="s" x="1391" y="21.5">**</text><text class="s" x="1483" y="21.5">**</text></g>
<g transform="translate(0,518.2)"><rect x="1368" class="p3"/><rect x="1414" class="p2"/><rect x="1460" class="g3"/><rect x="1505" class="g3"/><rect x="1551" class="g3"/><rect x="1622" class="p2"/><rect x="1668" class="p3"/><rect x="1714" class="g4"/><rect x="1759" class="g4"/><rect x="1805" class="g2"/>
<text class="s" x="1737" y="21.5">*</text><text class="s" x="1782" y="21.5">*</text></g>
<g transform="translate(0,541)"><rect x="1368" class="p3"/><rect x="1414" class="p3"/><rect x="1460" class="g1"/><rect x="1505" class="g3"/><rect x="1551" class="g2"/><rect x="1622" class="p2"/><rect x="1668" class="p5"/><rect x="1714" class="g4"/><rect x="1759" class="g5"/><rect x="1805" class="g4"/>
<text class="s" x="1691" y="21.5">**</text><text class="s" x="1737" y="21.5">*</text><text class="s" x="1782" y="21.5">**</text><text class="s" x="1828" y="21.5">*</text></g>
<g transform="translate(0,563.8)"><rect x="1368" class="w"/><rect x="1414" class="p1"/><rect x="1460" class="w"/><rect x="1505" class="g2"/><rect x="1551" class="g1"/><rect x="1622" class="w"/><rect x="1668" class="p2"/><rect x="1714" class="g5"/><rect x="1759" class="g6"/><rect x="1805" class="g4"/>
<text class="s" x="1737" y="21.5">**</text><text class="s" x="1782" y="21.5">***</text><text class="s" x="1828" y="21.5">*</text></g>
<g transform="translate(0,586.6)"><rect x="1368" class="g1"/><rect x="1414" class="w"/><rect x="1460" class="p1"/><rect x="1505" class="g3"/><rect x="1551" class="p1"/><rect x="1622" class="g2"/><rect x="1668" class="p2"/><rect x="1714" class="g3"/><rect x="1759" class="g5"/><rect x="1805" class="g2"/>
<text class="s" x="1782" y="21.5">**</text></g>
<g transform="translate(0,609.4)"><rect x="1368" class="p5"/><rect x="1414" class="p5"/><rect x="1460" class="g2"/><rect x="1505" class="g3"/><rect x="1551" class="g4"/><rect x="1622" class="p5"/><rect x="1668" class="p5"/><rect x="1714" class="g4"/><rect x="1759" class="g4"/><rect x="1805" class="g5"/>
<text class="s" x="1391" y="21.5">**</text><text class="s" x="1437" y="21.5">***</text><text class="s" x="1574" y="21.5">*</text><text class="s" x="1645" y="21.5">**</text><text class="s" x="1691" y="21.5">***</text><text class="s" x="1737" y="21.5">*</text><text class="s" x="1782" y="21.5">*</text><text class="s" x="1828" y="21.5">**</text></g>
<g transform="translate(0,632.2)"><rect x="1368" class="g1"/><rect x="1414" class="g1"/><rect x="1460" class="g4"/><rect x="1505" class="g3"/><rect x="1551" class="p2"/><rect x="1622" class="g1"/><rect x="1668" class="p1"/><rect x="1714" class="g4"/><rect x="1759" class="g3"/><rect x="1805" class="w"/>
<text class="s" x="1483" y="21.5">*</text><text class="s" x="1737" y="21.5">*</text></g>
<g transform="translate(0,655)"><rect x="1368" class="g5"/><rect x="1414" class="g4"/><rect x="1460" class="p4"/><rect x="1505" class="p3"/><rect x="1551" class="p4"/><rect x="1622" class="g4"/><rect x="1668" class="g4"/><rect x="1714" class="p4"/><rect x="1759" class="p1"/><rect x="1805" class="p3"/>
<text class="s" x="1391" y="21.5">**</text><text class="s" x="1437" y="21.5">*</text><text class="s" x="1483" y="21.5">*</text><text class="s" x="1574" y="21.5">*</text><text class="s" x="1645" y="21.5">*</text><text class="s" x="1691" y="21.5">*</text><text class="s" x="1737" y="21.5">*</text><text class="s" x="1828" y="21.5">*</text></g>
<g transform="translate(0,677.8)"><rect x="1368" class="p2"/><rect x="1414" class="p3"/><rect x="1460" class="w"/><rect x="1505" class="g3"/><rect x="1551" class="g2"/><rect x="1622" class="p2"/><rect x="1668" class="p4"/><rect x="1714" class="g3"/><rect x="1759" class="g3"/><rect x="1805" class="g3"/>
<text class="s" x="1691" y="21.5">*</text></g>
<g transform="translate(0,700.6)"><rect x="1368" class="p6"/><rect x="1414" class="p5"/><rect x="1460" class="g2"/><rect x="1505" class="g3"/><rect x="1551" class="g4"/><rect x="1622" class="p6"/><rect x="1668" class="p6"/><rect x="1714" class="g3"/><rect x="1759" class="g3"/><rect x="1805" class="g5"/>
<text class="s" x="1391" y="21.5">***</text><text class="s" x="1437" y="21.5">**</text><text class="s" x="1574" y="21.5">*</text><text class="s" x="1645" y="21.5">***</text><text class="s" x="1691" y="21.5">***</text><text class="s" x="1828" y="21.5">**</text></g>
<g transform="translate(0,723.4)"><rect x="1368" class="p6"/><rect x="1414" class="p5"/><rect x="1460" class="g2"/><rect x="1505" class="g3"/><rect x="1551" class="g4"/><rect x="1622" class="p5"/><rect x="1668" class="p6"/><rect x="1714" class="g4"/><rect x="1759" class="g4"/><rect x="1805" class="g5"/>
<text class="s" x="1391" y="21.5">***</text><text class="s" x="1437" y="21.5">**</text><text class="s" x="1574" y="21.5">*</text><text class="s" x="1645" y="21.5">**</text><text class="s" x="1691" y="21.5">***</text><text class="s" x="1737" y="21.5">*</text><text class="s" x="1782" y="21.5">*</text><text class="s" x="1828" y="21.5">**</text></g>
<g transform="translate(0,746.2)"><rect x="1368" class="g2"/><rect x="1414" class="w"/><rect x="1460" class="g3"/><rect x="1505" class="g3"/><rect x="1551" class="p2"/><rect x="1622" class="g2"/><rect x="1668" class="p1"/><rect x="1714" class="g5"/><rect x="1759" class="g5"/><rect x="1805" class="g2"/>
<text class="s" x="1737" y="21.5">**</text><text class="s" x="1782" y="21.5">**</text></g>
<g transform="translate(0,769)"><rect x="1368" class="p5"/><rect x="1414" class="p4"/><rect x="1460" class="g3"/><rect x="1505" class="g3"/><rect x="1551" class="g3"/><rect x="1622" class="p5"/><rect x="1668" class="p2"/><rect x="1714" class="g2"/><rect x="1759" class="g1"/><rect x="1805" class="g3"/>
<text class="s" x="1391" y="21.5">**</text><text class="s" x="1437" y="21.5">*</text><text class="s" x="1645" y="21.5">**</text></g>
<g transform="translate(0,791.8)"><rect x="1368" class="p2"/><rect x="1414" class="p3"/><rect x="1460" class="g3"/><rect x="1505" class="g4"/><rect x="1551" class="g3"/><rect x="1622" class="p1"/><rect x="1668" class="p4"/><rect x="1714" class="g6"/><rect x="1759" class="g6"/><rect x="1805" class="g5"/>
<text class="s" x="1528" y="21.5">*</text><text class="s" x="1691" y="21.5">*</text><text class="s" x="1737" y="21.5">***</text><text class="s" x="1782" y="21.5">***</text><text class="s" x="1828" y="21.5">**</text></g>
<g transform="translate(0,814.6)"><rect x="1368" class="p3"/><rect x="1414" class="p4"/><rect x="1460" class="g2"/><rect x="1505" class="g3"/><rect x="1551" class="g4"/><rect x="1622" class="p4"/><rect x="1668" class="p5"/><rect x="1714" class="g3"/><rect x="1759" class="g3"/><rect x="1805" class="g4"/>
<text class="s" x="1437" y="21.5">*</text><text class="s" x="1574" y="21.5">*</text><text class="s" x="1645" y="21.5">*</text><text class="s" x="1691" y="21.5">**</text><text class="s" x="1828" y="21.5">*</text></g>
<g transform="translate(0,837.4)"><rect x="1368" class="g4"/><rect x="1414" class="g3"/><rect x="1460" class="p2"/><rect x="1505" class="w"/><rect x="1551" class="p3"/><rect x="1622" class="g4"/><rect x="1668" class="g2"/><rect x="1714" class="g1"/><rect x="1759" class="g2"/><rect x="1805" class="p1"/>
<text class="s" x="1391" y="21.5">*</text></g>
<g transform="translate(0,860.2)"><rect x="1368" class="p4"/><rect x="1414" class="p5"/><rect x="1460" class="g2"/><rect x="1505" class="g4"/><rect x="1551" class="g3"/><rect x="1622" class="p2"/><rect x="1668" class="p5"/><rect x="1714" class="g5"/><rect x="1759" class="g6"/><rect x="1805" class="g5"/>
<text class="s" x="1391" y="21.5">*</text><text class="s" x="1437" y="21.5">**</text><text class="s" x="1691" y="21.5">**</text><text class="s" x="1737" y="21.5">**</text><text class="s" x="1782" y="21.5">***</text><text class="s" x="1828" y="21.5">**</text></g>
<g transform="translate(0,883)"><rect x="1368" class="p4"/><rect x="1414" class="p5"/><rect x="1460" class="g2"/><rect x="1505" class="g4"/><rect x="1551" class="g4"/><rect x="1622" class="p2"/><rect x="1668" class="p6"/><rect x="1714" class="g6"/><rect x="1759" class="g6"/><rect x="1805" class="g6"/>
<text class="s" x="1391" y="21.5">*</text><text class="s" x="1437" y="21.5">**</text><text class="s" x="1528" y="21.5">*</text><text class="s" x="1691" y="21.5">***</text><text class="s" x="1737" y="21.5">***</text><text class="s" x="1782" y="21.5">***</text><text class="s" x="1828" y="21.5">***</text></g>
<g transform="translate(0,905.8)"><rect x="1368" class="g4"/><rect x="1414" class="g4"/><rect x="1460" class="p5"/><rect x="1505" class="p4"/><rect x="1551" class="p2"/><rect x="1622" class="g4"/><rect x="1668" class="g5"/><rect x="1714" class="p5"/><rect x="1759" class="p4"/><rect x="1805" class="p4"/>
<text class="s" x="1391" y="21.5">*</text><text class="s" x="1437" y="21.5">*</text><text class="s" x="1483" y="21.5">**</text><text class="s" x="1528" y="21.5">*</text><text class="s" x="1645" y="21.5">*</text><text class="s" x="1691" y="21.5">**</text><text class="s" x="1737" y="21.5">**</text><text class="s" x="1782" y="21.5">*</text><text class="s" x="1828" y="21.5">*</text></g>
<g transform="translate(0,928.6)"><rect x="1368" class="g5"/><rect x="1414" class="g5"/><rect x="1460" class="p5"/><rect x="1505" class="p4"/><rect x="1551" class="p4"/><rect x="1622" class="g5"/><rect x="1668" class="g4"/><rect x="1714" class="p1"/><rect x="1759" class="w"/><rect x="1805" class="p1"/>
<text class="s" x="1391" y="21.5">**</text><text class="s" x="1437" y="21.5">**</text><text class="s" x="1483" y="21.5">**</text><text class="s" x="1528" y="21.5">*</text><text class="s" x="1574" y="21.5">*</text><text class="s" x="1645" y="21.5">**</text><text class="s" x="1691" y="21.5">*</text></g>
</g>

<g id="gene-labels" transform="translate(1857 0) scale(0.905 1)">
<text class="gn" x="0" y="102.8">TRINITY_DN187_c0_g3</text>
<text class="gn" x="0" y="125.6">TRINITY_DN187_c0_g1</text>
<text class="gn" x="0" y="148.4">TRINITY_DN3464_c0_g2</text>
<text class="gn" x="0" y="171.2">TRINITY_DN252_c4_g1</text>
<text class="gn" x="0" y="194">TRINITY_DN63201_c0_g1</text>
<text class="gn" x="0" y="216.8">TRINITY_DN13858_c0_g1</text>
<text class="gn" x="0" y="239.6">TRINITY_DN15839_c0_g1</text>
<text class="gn" x="0" y="262.4">TRINITY_DN20546_c0_g1</text>
<text class="gn" x="0" y="285.2">TRINITY_DN16469_c0_g1</text>
<text class="gn" x="0" y="308">TRINITY_DN3694_c0_g1</text>
<text class="gn" x="0" y="330.8">TRINITY_DN2512_c1_g2</text>
<text class="gn" x="0" y="353.6">TRINITY_DN23754_c0_g1</text>
<text class="gn" x="0" y="376.4">TRINITY_DN51949_c0_g1</text>
<text class="gn" x="0" y="399.2">TRINITY_DN11491_c0_g1</text>
<text class="gn" x="0" y="422">TRINITY_DN656_c0_g1</text>
<text class="gn" x="0" y="444.8">TRINITY_DN8363_c0_g1</text>
<text class="gn" x="0" y="467.6">TRINITY_DN8145_c0_g1</text>
<text class="gn" x="0" y="490.4">TRINITY_DN49278_c0_g1</text>
<text class="gn" x="0" y="513.2">TRINITY_DN13417_c0_g2</text>
<text class="gn" x="0" y="536">TRINITY_DN7645_c0_g1</text>
<text class="gn" x="0" y="558.8">TRINITY_DN8905_c0_g1</text>
<text class="gn" x="0" y="581.6">TRINITY_DN2095_c0_g1</text>
<text class="gn" x="0" y="604.4">TRINITY_DN21332_c0_g1</text>
<text class="gn" x="0" y="627.2">TRINITY_DN3816_c0_g1</text>
<text class="gn" x="0" y="650">TRINITY_DN18988_c0_g1</text>
<text class="gn" x="0" y="672.8">TRINITY_DN55918_c0_g1</text>
<text class="gn" x="0" y="695.6">TRINITY_DN15670_c0_g1</text>
<text class="gn" x="0" y="718.4">TRINITY_DN3351_c0_g3</text>
<text class="gn" x="0" y="741.2">TRINITY_DN3351_c0_g1</text>
<text class="gn" x="0" y="764">TRINITY_DN1655_c0_g3</text>
<text class="gn" x="0" y="786.8">TRINITY_DN25832_c0_g1</text>
<text class="gn" x="0" y="809.6">TRINITY_DN8503_c0_g1</text>
<text class="gn" x="0" y="832.4">TRINITY_DN409_c0_g1</text>
<text class="gn" x="0" y="855.2">TRINITY_DN42109_c0_g1</text>
<text class="gn" x="0" y="878">TRINITY_DN4778_c1_g1</text>
<text class="gn" x="0" y="900.8">TRINITY_DN33723_c0_g1</text>
<text class="gn" x="0" y="923.6">TRINITY_DN12261_c0_g2</text>
<text class="gn" x="0" y="946.4">TRINITY_DN12516_c0_g1</text>
</g>

<g id="group-labels">
<path stroke="#000" stroke-width="3" d="M1361,87 V151.4 M1361,155.4 V174.2 M1361,178.2 V197 M1361,201 V219.8 M1361,223.8 V242.6 M1361,246.6 V311 M1361,315 V425 M1361,429 V470.6 M1361,474.6 V493.4 M1361,497.4 V516.2 M1361,520.2 V539 M1361,543 V675.8 M1361,679.8 V744.2 M1361,748.2 V789.8 M1361,793.8 V835.4 M1361,839.4 V858.2 M1361,862.2 V949.4"/>
<text class="gi" x="1354" y="127">glgC</text>
<text class="gi" x="1354" y="173">glgA</text>
<text class="gi" x="1354" y="195.6">glgB</text>
<text class="gi" x="1354" y="218.4">ISA</text>
<text class="gi" x="1354" y="241.2">AMY</text>
<text class="gi" x="1354" y="286.8">BAM</text>
<text class="gi" x="1354" y="378">EG</text>
<text class="gi" x="1354" y="457.8">UGP2</text>
<text class="gi" x="1354" y="492">SUS</text>
<text class="gi" x="1354" y="514.8">TPS</text>
<text class="gi" x="1354" y="537.6">TPP</text>
<text class="gi" x="1354" y="617.4">BGL</text>
<text class="gi" x="1354" y="720">GN</text>
<text class="gi" x="1354" y="777">INV</text>
<text class="gi" x="1354" y="822.6">malZ</text>
<text class="gi" x="1354" y="856.8">HK</text>
<text class="gi" x="1354" y="913.8">scrK</text>
</g>

<g id="x-labels">
<text class="xl" x="1396" y="962" transform="rotate(-45 1396 962)">Amylose</text>
<text class="xl" x="1442" y="962" transform="rotate(-45 1442 962)">starch</text>
<text class="xl" x="1488" y="962" transform="rotate(-45 1488 962)">UDP-glucose</text>
<text class="xl" x="1533" y="962" transform="rotate(-45 1533 962)">sucrose</text>
<text class="xl" x="1579" y="962" transform="rotate(-45 1579 962)">Levan</text>
<text class="xl" x="1650" y="962" transform="rotate(-45 1650 962)">Amylose</text>
<text class="xl" x="1696" y="962" transform="rotate(-45 1696 962)">starch</text>
<text class="xl" x="1742" y="962" transform="rotate(-45 1742 962)">UDP-glucose</text>
<text class="xl" x="1787" y="962" transform="rotate(-45 1787 962)">sucrose</text>
<text class="xl" x="1833" y="962" transform="rotate(-45 1833 962)">Levan</text>
</g>

<g id="legend-b">
<text x="2059" y="753" style="font-size:20px" textLength="52" lengthAdjust="spacingAndGlyphs"><tspan style="font-style:italic">r</tspan> value</text>
<rect x="2089" y="758" width="19" height="187" fill="url(#gR)"/>
<g fill="#000"><rect x="2085" y="803" width="4" height="4"/><rect x="2085" y="851" width="4" height="4"/><rect x="2085" y="901" width="4" height="4"/></g>
<g style="text-anchor:end"><text class="tk" x="2084" y="810">0.5</text><text class="tk" x="2084" y="858">0</text><text class="tk" x="2084" y="908">-0.5</text></g>
</g>
</g>
</svg>
